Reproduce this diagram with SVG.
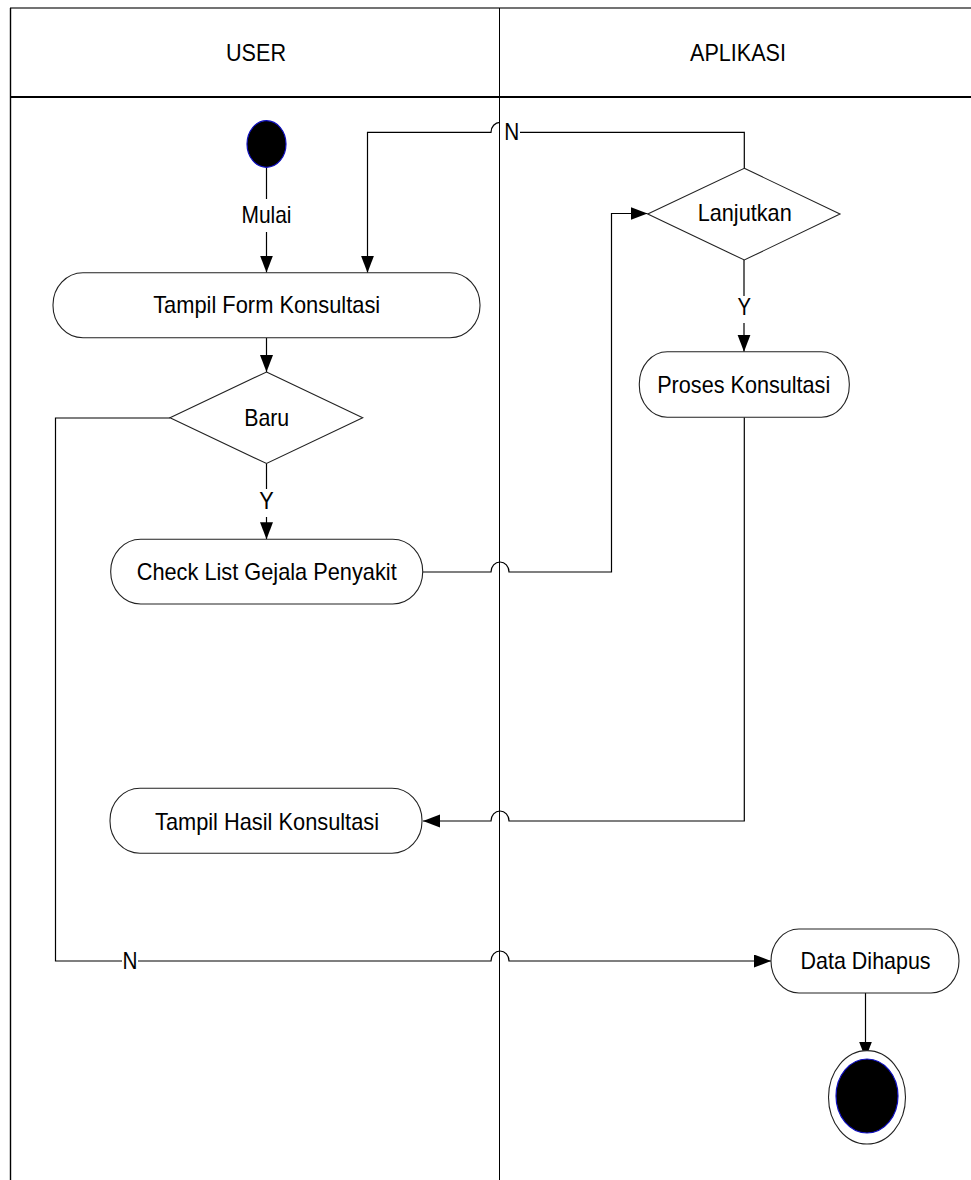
<svg xmlns="http://www.w3.org/2000/svg" width="971" height="1180" viewBox="0 0 971 1180">
<style>
.lane{fill:none;stroke:#000;stroke-width:1}
.node{fill:#fff;stroke:#222;stroke-width:1.1}
.conn{fill:none;stroke:#000;stroke-width:1.2}
text{font-family:"Liberation Sans",Arial,sans-serif;font-size:24px;fill:#000;text-anchor:middle}
</style>
<defs>
<marker id="arr" markerUnits="userSpaceOnUse" markerWidth="18" markerHeight="14" refX="17" refY="6.5" orient="auto">
<path d="M0,0 L17,6.5 L0,13 z" fill="#000"/>
</marker>
</defs>
<rect width="971" height="1180" fill="#fff"/>
<g id="swimlanes">
<line x1="10" y1="8" x2="971" y2="8" stroke="#444" stroke-width="1.6"/>
<line x1="10" y1="97" x2="971" y2="97" stroke="#000" stroke-width="1.8"/>
<line x1="10.5" y1="8" x2="10.5" y2="1180" stroke="#000" stroke-width="1.4"/>
<line x1="499.5" y1="8" x2="499.5" y2="1180" class="lane"/>
<text x="256" y="61" textLength="60" lengthAdjust="spacingAndGlyphs">USER</text>
<text x="738" y="61" textLength="96" lengthAdjust="spacingAndGlyphs">APLIKASI</text>
</g>
<g id="connectors">
<path class="conn" d="M266.5 167 V199 M266.5 232 V272.5" marker-end="url(#arr)"/>
<text x="266.5" y="223" textLength="50" lengthAdjust="spacingAndGlyphs">Mulai</text>
<path class="conn" d="M266.5 338 V372" marker-end="url(#arr)"/>
<path class="conn" d="M266.5 463.5 V489 M266.5 517 V539.3" marker-end="url(#arr)"/>
<text x="266.5" y="509" textLength="14.5" lengthAdjust="spacingAndGlyphs">Y</text>
<path class="conn" d="M423 572 H491 A9 10 0 0 1 509 572 H611.5 V213.5 H647.5" marker-end="url(#arr)"/>
<path class="conn" d="M744 260 V296 M744 323 V351.7" marker-end="url(#arr)"/>
<text x="744.3" y="315" textLength="13.5" lengthAdjust="spacingAndGlyphs">Y</text>
<path class="conn" d="M744.3 168.3 V132.3 H520"/>
<path class="conn" d="M500 122.3 A9 10 0 0 0 491 132.3 H367.5 V272.7" marker-end="url(#arr)"/>
<text x="511.7" y="140" textLength="15" lengthAdjust="spacingAndGlyphs">N</text>
<path class="conn" d="M744.3 417.3 V821 H509 A9 10 0 0 0 491 821 H423" marker-end="url(#arr)"/>
<path class="conn" d="M170 418 H55.5 V961 H122 M138 961 H491 A9 10 0 0 1 509 961 H771" marker-end="url(#arr)"/>
<text x="130" y="968.5" textLength="15" lengthAdjust="spacingAndGlyphs">N</text>
<path class="conn" d="M865.5 993 V1058.5" marker-end="url(#arr)"/>
</g>
<g id="start">
<ellipse cx="266.5" cy="144" rx="19.5" ry="23.3" fill="#000" stroke="#1010c0" stroke-width="1.2"/>
</g>
<g id="tampil-form">
<rect class="node" x="53" y="272.7" width="427" height="65" rx="30" ry="32"/>
<text x="266.7" y="312.7" textLength="227" lengthAdjust="spacingAndGlyphs">Tampil Form Konsultasi</text>
</g>
<g id="baru">
<polygon class="node" points="266.5,372 362.7,417.8 266.5,463.5 170,417.8"/>
<text x="266.7" y="425.7" textLength="45" lengthAdjust="spacingAndGlyphs">Baru</text>
</g>
<g id="check-list">
<rect class="node" x="110.7" y="539.3" width="312" height="64.7" rx="30" ry="32"/>
<text x="266.7" y="580" textLength="260" lengthAdjust="spacingAndGlyphs">Check List Gejala Penyakit</text>
</g>
<g id="lanjutkan">
<polygon class="node" points="744.3,168.3 840,214 744.3,260 647.7,214"/>
<text x="744.7" y="221" textLength="94" lengthAdjust="spacingAndGlyphs">Lanjutkan</text>
</g>
<g id="proses">
<rect class="node" x="639.3" y="351.7" width="210" height="65.6" rx="28" ry="32"/>
<text x="743.7" y="393" textLength="173" lengthAdjust="spacingAndGlyphs">Proses Konsultasi</text>
</g>
<g id="tampil-hasil">
<rect class="node" x="110" y="788.3" width="312" height="65" rx="30" ry="32"/>
<text x="267" y="830" textLength="224" lengthAdjust="spacingAndGlyphs">Tampil Hasil Konsultasi</text>
</g>
<g id="data-dihapus">
<rect class="node" x="771" y="929" width="188" height="64" rx="28" ry="32"/>
<text x="865.6" y="969" textLength="130" lengthAdjust="spacingAndGlyphs">Data Dihapus</text>
</g>
<g id="end">
<ellipse cx="867" cy="1097.3" rx="38.5" ry="46.7" fill="#fff" stroke="#222" stroke-width="1.1"/>
<ellipse cx="867" cy="1096" rx="31" ry="37" fill="#000" stroke="#1010c0" stroke-width="1.2"/>
</g>
</svg>
